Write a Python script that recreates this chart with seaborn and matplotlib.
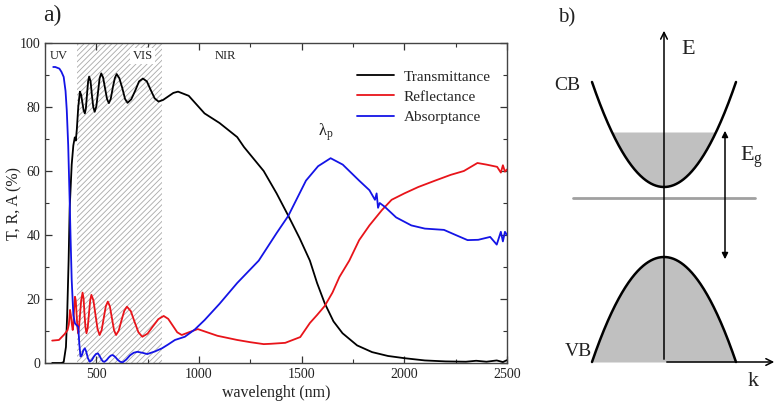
import numpy as np
import pandas as pd
import matplotlib
matplotlib.use("Agg")
import matplotlib.pyplot as plt
import seaborn as sns
from matplotlib.lines import Line2D

# ---------------- data ----------------
wl_T = [285, 330, 341, 352, 358, 365, 370, 380, 388, 395, 400, 405, 412, 420, 426, 432, 438,
        444, 449, 454, 460, 465, 472, 478, 485, 492, 500, 508, 516, 524, 533, 542, 552,
        561, 570, 580, 590, 599, 612, 626, 640, 652, 670, 690, 708, 727, 746, 765, 784,
        803, 825, 850, 875, 898, 950, 1027, 1100, 1186, 1219, 1315, 1378, 1435, 1490,
        1540, 1575, 1612, 1655, 1699, 1770, 1843, 1920, 2001, 2100, 2200, 2300, 2350,
        2400, 2450, 2480, 2500]
T = [0, 0, 0.3, 5, 15, 32, 48, 62, 68, 70.5, 69.5, 73, 80, 84.8, 83.8, 81.4, 79,
     78, 79.5, 83.5, 88, 89.5, 88, 84, 80, 78.5, 80.2, 84.5, 89, 90.5, 89.2, 86, 82.5,
     81.2, 82.5, 86, 89, 90.3, 89, 86, 82.5, 81.3, 82.4, 85.2, 88, 88.9, 88, 85.3, 82.7,
     81.7, 82.2, 83.3, 84.4, 84.8, 83.5, 78, 75, 70.6, 67.5, 60, 53, 46, 39,
     32, 25, 18.7, 13, 9.3, 5.5, 3.4, 2.2, 1.5, 0.8, 0.5, 0.4, 0.7,
     0.4, 0.8, 0.3, 0.9]

wl_R = [285, 318, 345, 360, 366, 372, 376, 380, 385, 388, 391, 396, 400, 404, 408, 412,
        418, 426, 433, 438, 442, 447, 452, 458, 464, 470, 476, 486, 496, 506, 516, 526,
        536, 546, 556, 566, 576, 586, 596, 609, 622, 636, 649, 668, 686, 705, 724, 750,
        776, 802, 828, 850, 872, 894, 916, 955, 994, 1090, 1186, 1250, 1315, 1349, 1420,
        1493, 1540, 1575, 1612, 1650, 1684, 1732, 1780, 1830, 1891, 1938, 2000, 2068,
        2150, 2226, 2290, 2356, 2400, 2452, 2470, 2480, 2490, 2500]
R = [7, 7.2, 9, 10.3, 12, 16.6, 15, 12.5, 10.3, 12, 16, 20.7, 19.5, 15, 11, 9.3,
     13, 19.5, 22, 20.1, 15.6, 11.2, 9.3, 11, 15.3, 19.5, 21.3, 19.5, 15, 10.6, 8.75, 10.3,
     14, 17.7, 19.2, 17.7, 14, 10.3, 8.75, 10.1, 13.2, 16.3, 17.6, 16.2, 12.9, 9.6, 8.2, 9.2,
     11.5, 13.7, 14.7, 13.8, 11.7, 9.6, 8.75, 9.7, 10.6, 8.5, 7.2, 6.5, 5.9, 6, 6.3,
     8.1, 12.5, 15, 17.8, 22, 26.9, 32, 38.4, 43, 47.8, 51, 53, 55,
     57, 58.8, 60, 62.5, 62, 61.3, 59.5, 61.8, 59.8, 60.5]

wl_A = [290, 300, 320, 330, 341, 350, 356, 363, 370, 375, 380, 388, 396, 404, 412, 417,
        423, 430, 437, 444, 451, 459, 468, 478, 488, 498, 508, 516, 524, 532, 540, 550,
        560, 570, 580, 592, 604, 616, 628, 646, 664, 682, 700, 724, 748, 785, 820, 850,
        883, 931, 980, 1027, 1100, 1186, 1291, 1378, 1435, 1521, 1580, 1641, 1700, 1780,
        1830, 1857, 1865, 1872, 1880, 1905, 1960, 2034, 2100, 2193, 2250, 2308, 2360,
        2418, 2450, 2470, 2480, 2490, 2500]
A = [92.5, 92.5, 92, 91, 89.4, 85, 79, 68, 51, 38, 26, 15, 12.4, 11.8, 11.3, 6,
     2, 2.5, 4, 4.6, 3.5, 1.5, 0.4, 0.9, 2, 2.8, 3, 2.2, 1.2, 0.5, 0.4, 0.9,
     1.7, 2.3, 2.5, 1.9, 1, 0.4, 0.2, 1.1, 2.4, 3.2, 3.5, 3.2, 2.8, 3.6, 4.6, 5.8,
     7.2, 8.2, 10.5, 13.4, 18.5, 25, 32, 40.6, 46, 57, 61.5, 64, 62, 57,
     54, 51, 53, 48.5, 50, 48.8, 45.5, 43, 42, 41.6, 40, 38.4, 38.5,
     39.4, 37, 41, 38, 41, 40]

series_names = ["Transmittance", "Reflectance", "Absorptance"]
series_colors = ["black", "#e8141a", "#1414e6"]

df = pd.concat([
    pd.DataFrame({"wavelength": wl_T, "value": T, "series": "Transmittance"}),
    pd.DataFrame({"wavelength": wl_R, "value": R, "series": "Reflectance"}),
    pd.DataFrame({"wavelength": wl_A, "value": A, "series": "Absorptance"}),
], ignore_index=True)

x_ticks = [500, 1000, 1500, 2000, 2500]
y_ticks = [0, 20, 40, 60, 80, 100]

# ---------------- style ----------------
sns.set_theme(style="ticks")
plt.rcParams["font.family"] = ["Liberation Serif", "DejaVu Serif"]
plt.rcParams["mathtext.fontset"] = "custom"
plt.rcParams["mathtext.rm"] = "Liberation Serif"
plt.rcParams["mathtext.it"] = "Liberation Serif:italic"
plt.rcParams["hatch.linewidth"] = 0.6

fig = plt.figure(figsize=(7.79, 4.08), dpi=100)
W, H = 779, 408
ax = fig.add_axes([45 / W, (H - 363) / H, (507 - 45) / W, (363 - 43) / H])

# hatched VIS region
ax.axvspan(407, 818, facecolor="white", edgecolor="#a8a8a8", hatch="//////", linewidth=0, zorder=0)

sns.lineplot(data=df, x="wavelength", y="value", hue="series", hue_order=series_names,
             palette=dict(zip(series_names, series_colors)), estimator=None, sort=True,
             linewidth=1.3, ax=ax, legend=False, zorder=3)

ax.set_xlim(284, 2500)
ax.set_ylim(0, 100)
ax.set_xticks(x_ticks)
ax.set_yticks(y_ticks)
ax.set_xticks(np.arange(250, 2501, 250), minor=True)
ax.set_yticks(np.arange(0, 101, 10), minor=True)
ax.tick_params(which="both", direction="in", top=True, right=True, labelsize=10,
               colors="#333333", labelcolor="#222222")
ax.tick_params(which="major", length=5, width=0.9)
ax.tick_params(which="minor", length=3, width=0.8)
for s in ax.spines.values():
    s.set_color("#444444")
    s.set_linewidth(1.0)
ax.set_xlabel("wavelenght (nm)", fontsize=11.5, color="#222222")
ax.xaxis.set_label_coords(0.5, -(385 - 363) / 320)
ax.set_ylabel("T, R, A (%)", fontsize=11.5, color="#222222")
ax.yaxis.set_label_coords(-(45 - 22) / 462, 0.5)

ax.text(318, 96, "UV", fontsize=9, ha="center", va="center", color="#222222")
ax.text(725, 96, "VIS", fontsize=9, ha="center", va="center", color="#222222",
        bbox=dict(facecolor="white", edgecolor="none", pad=1.5), zorder=4)
ax.text(1130, 96, "NIR", fontsize=9, ha="center", va="center", color="#222222")
ax.text(1617, 72, r"$\mathregular{\lambda_p}$", fontsize=12, ha="center", va="center", color="#222222")

handles = [Line2D([], [], color=c, lw=1.3) for c in series_colors]
fig.legend(handles, series_names, loc="upper left", bbox_to_anchor=(357 / W, 1 - 70 / H),
           bbox_transform=fig.transFigure, frameon=False, fontsize=11, handlelength=2.4,
           handletextpad=0.65, labelspacing=0.42, borderpad=0, borderaxespad=0)

fig.text(52 / W, 1 - 15 / H, "a)", fontsize=17, ha="center", va="center", color="#222222")

# ---------------- panel b: band diagram (schematic) ----------------
bx = fig.add_axes([0, 0, 1, 1], facecolor="none")
bx.set_xlim(0, W)
bx.set_ylim(H, 0)
bx.axis("off")

k0 = 664          # k = 0 position
k_half = 72       # half width of drawn bands
cb_min, cb_top = 187, 82     # CB bottom and end height
vb_max, vb_bot = 257, 362    # VB top and end height
fermi = 132                  # filled level in CB
curv = (cb_min - cb_top) / k_half ** 2

k = np.linspace(-k_half, k_half, 400)
cb = cb_min - curv * k ** 2
vb = vb_max + curv * k ** 2

bx.fill_between(k0 + k, cb, fermi, where=cb >= fermi, interpolate=True,
                color="#c0c0c0", lw=0, zorder=1)
bx.fill_between(k0 + k, vb, vb_bot, color="#c0c0c0", lw=0, zorder=1)
bx.plot(k0 + k, cb, color="black", lw=1.8, zorder=3)
bx.plot(k0 + k, vb, color="black", lw=1.8, zorder=3)

bx.plot([573, 755], [198, 198], color="#a0a0a0", lw=2, zorder=2)

bx.annotate("", xy=(k0, 28), xytext=(k0, vb_bot), zorder=4,
            arrowprops=dict(arrowstyle="->", color="black", lw=1.1, mutation_scale=12))
bx.annotate("", xy=(777, vb_bot), xytext=(k0, vb_bot), zorder=4,
            arrowprops=dict(arrowstyle="->", color="black", lw=1.1, mutation_scale=12))
bx.annotate("", xy=(725, 128), xytext=(725, 262), zorder=4,
            arrowprops=dict(arrowstyle="<|-|>", color="black", lw=1.1, mutation_scale=9))

bx.text(688, 50, "E", fontsize=16, ha="center", va="center", color="#222222")
bx.text(753, 382, "k", fontsize=16, ha="center", va="center", color="#222222")
bx.text(567, 86, "CB", fontsize=14, ha="center", va="center", color="#222222")
bx.text(578, 352, "VB", fontsize=14, ha="center", va="center", color="#222222")
bx.text(752, 157, r"E$_\mathregular{g}$", fontsize=16, ha="center", va="center", color="#222222")
bx.text(567, 18, "b)", fontsize=15, ha="center", va="center", color="#222222")

fig.savefig("out.png", dpi=100)
